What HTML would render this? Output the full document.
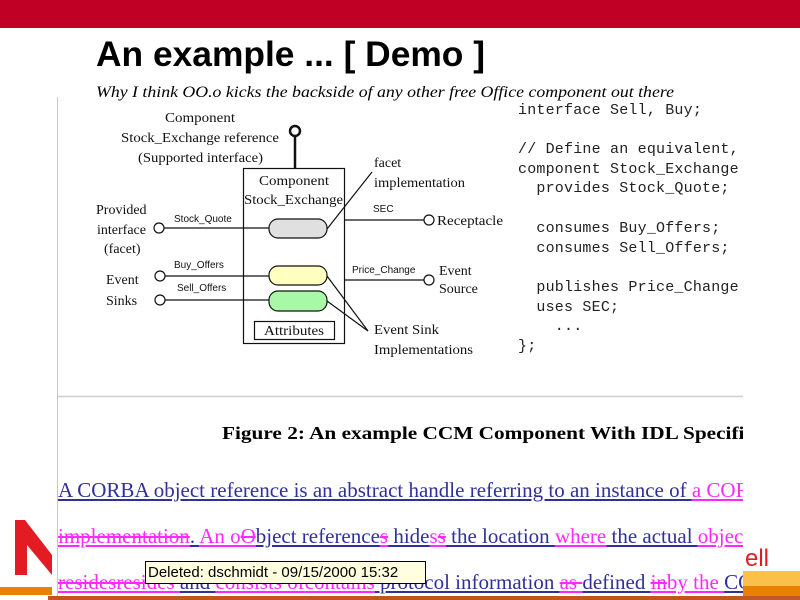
<!DOCTYPE html>
<html><head><meta charset="utf-8"><style>
body{margin:0;width:800px;height:600px;overflow:hidden;background:#fff;position:relative;font-family:"Liberation Serif",serif}
.ab{position:absolute}
.ln{position:absolute;left:58px;width:685px;overflow:hidden;white-space:nowrap;font-size:21px;line-height:24px}
.n{color:#30309a;text-decoration:underline}
.m{color:#ff28ff;text-decoration:underline}
.s{color:#ff28ff;text-decoration:underline line-through}
.ns{color:#30309a;text-decoration:underline line-through}
.code{position:absolute;left:518px;font-family:"Liberation Mono",monospace;font-size:15px;letter-spacing:0.2px;white-space:pre;color:#222}
</style></head><body>
<div class="ab" style="left:0;top:0;width:800px;height:28px;background:#c10026"></div>
<svg class="ab" style="left:0;top:0" width="800" height="600" xmlns="http://www.w3.org/2000/svg">
<text x="96" y="66" font-family="Liberation Sans" font-weight="bold" font-size="35" textLength="389" lengthAdjust="spacingAndGlyphs">An example ... [ Demo ]</text>
<text x="96" y="97" font-family="Liberation Serif" font-style="italic" font-size="16" textLength="578" lengthAdjust="spacingAndGlyphs">Why I think OO.o kicks the backside of any other free Office component out there</text>
<line x1="57.5" y1="97" x2="57.5" y2="600" stroke="#c8c8c8"/>
<line x1="57" y1="396.5" x2="743" y2="396.5" stroke="#c8d0d0" stroke-width="1.5"/>
<g font-family="Liberation Serif" font-size="14" fill="#111">
<text x="165" y="122" textLength="70" lengthAdjust="spacingAndGlyphs">Component</text>
<text x="121" y="142" textLength="158" lengthAdjust="spacingAndGlyphs">Stock_Exchange reference</text>
<text x="138" y="162" textLength="125" lengthAdjust="spacingAndGlyphs">(Supported interface)</text>
<text x="259" y="185" textLength="70" lengthAdjust="spacingAndGlyphs">Component</text>
<text x="244" y="204" textLength="99" lengthAdjust="spacingAndGlyphs">Stock_Exchange</text>
<text x="374" y="167">facet</text>
<text x="374" y="187" textLength="91" lengthAdjust="spacingAndGlyphs">implementation</text>
<text x="96" y="214">Provided</text>
<text x="97" y="234">interface</text>
<text x="104" y="253">(facet)</text>
<text x="106" y="284">Event</text>
<text x="106" y="305">Sinks</text>
<text x="437" y="225" textLength="66" lengthAdjust="spacingAndGlyphs">Receptacle</text>
<text x="439" y="275">Event</text>
<text x="439" y="293">Source</text>
<text x="374" y="334" textLength="65" lengthAdjust="spacingAndGlyphs">Event Sink</text>
<text x="374" y="354" textLength="99" lengthAdjust="spacingAndGlyphs">Implementations</text>
<text x="264" y="335" textLength="60" lengthAdjust="spacingAndGlyphs">Attributes</text>
</g>
<g font-family="Liberation Sans" font-size="10" fill="#111">
<text x="174" y="222">Stock_Quote</text>
<text x="174" y="268">Buy_Offers</text>
<text x="177" y="291">Sell_Offers</text>
<text x="373" y="212">SEC</text>
<text x="352" y="273">Price_Change</text>
</g>
<g stroke="#111" fill="none" stroke-width="1.2">
<rect x="243.5" y="168.5" width="101" height="175"/>
<rect x="254.5" y="321.5" width="80" height="18"/>
<line x1="295" y1="168" x2="295" y2="136" stroke-width="2.5"/>
<circle cx="295" cy="131" r="5" stroke-width="2.5" fill="#fff"/>
<line x1="164" y1="228" x2="269" y2="228"/>
<circle cx="159" cy="228" r="5" fill="#fff"/>
<line x1="165" y1="276" x2="269" y2="276"/>
<circle cx="160" cy="276" r="5" fill="#fff"/>
<line x1="165" y1="300" x2="269" y2="300"/>
<circle cx="160" cy="300" r="5" fill="#fff"/>
<line x1="344" y1="220" x2="424" y2="220"/>
<circle cx="429" cy="220" r="5" fill="#fff"/>
<line x1="344" y1="280" x2="424" y2="280"/>
<circle cx="429" cy="280" r="5" fill="#fff"/>
<rect x="269" y="219" width="58" height="19" rx="9" fill="#e0e0e0"/>
<rect x="269" y="266" width="58" height="19" rx="9" fill="#ffffc0"/>
<rect x="269" y="291" width="58" height="20" rx="9" fill="#a8f8a8"/>
<path d="M327 229 Q350 200 372 172"/>
<line x1="327" y1="276" x2="368" y2="331"/>
<line x1="327" y1="301" x2="368" y2="331"/>
</g>
<text x="222" y="439" font-family="Liberation Serif" font-weight="bold" font-size="18" textLength="578" lengthAdjust="spacingAndGlyphs">Figure 2: An example CCM Component With IDL Specification</text>
<rect x="743" y="400" width="57" height="200" fill="#fff"/>
<path d="M15 520 L25 520 L52 555 L52 575 L27 545 L27 575 L15 575 Z" fill="#e31b23"/>
<rect x="0" y="587" width="52" height="8" fill="#e88000"/>
<rect x="743" y="571" width="57" height="15" fill="#fbbf4a"/>
<rect x="743" y="586" width="57" height="10" fill="#e88000"/>
<rect x="743" y="596" width="57" height="4" fill="#c05a20"/>
<text x="745" y="566" font-family="Liberation Sans" font-size="24" fill="#e31b23">ell</text>
</svg>
<div class="code" style="top:102px">interface Sell, Buy;</div>
<div class="code" style="top:141px">// Define an equivalent,</div>
<div class="code" style="top:161px">component Stock_Exchange</div>
<div class="code" style="top:180px">  provides Stock_Quote;</div>
<div class="code" style="top:220px">  consumes Buy_Offers;</div>
<div class="code" style="top:240px">  consumes Sell_Offers;</div>
<div class="code" style="top:279px">  publishes Price_Change</div>
<div class="code" style="top:299px">  uses SEC;</div>
<div class="code" style="top:318px">    ...</div>
<div class="code" style="top:338px">};</div>
<div class="ln" style="top:478px"><span class="n">A CORBA object reference is an abstract handle referring to an instance of </span><span class="m">a CORBA object</span></div>
<div class="ln" style="top:524px"><span class="s">implementation</span><span class="n">. </span><span class="m">An o</span><span class="s">O</span><span class="n">bject reference</span><span class="s">s</span><span class="n"> hide</span><span class="m">s</span><span class="s">s</span><span class="n"> the location </span><span class="m">where</span><span class="n"> the actual </span><span class="m">object</span></div>
<div class="ln" style="top:570px"><span class="s">residesresides </span><span class="ns">and </span><span class="s">consists of</span><span class="m">contains</span><span class="n"> protocol information </span><span class="s">as </span><span class="n">defined </span><span class="s">in</span><span class="m">by the </span><span class="n">CORBA</span></div>
<div class="ab" style="left:145px;top:561px;width:277px;height:21px;background:#ffffe0;border:1px solid #000;font-family:'Liberation Sans',sans-serif;font-size:15px;line-height:21px;padding-left:2px;white-space:nowrap">Deleted: dschmidt - 09/15/2000 15:32</div>
<div class="ab" style="left:48px;top:596px;width:695px;height:4px;background:#c0561e"></div>
</body></html>
